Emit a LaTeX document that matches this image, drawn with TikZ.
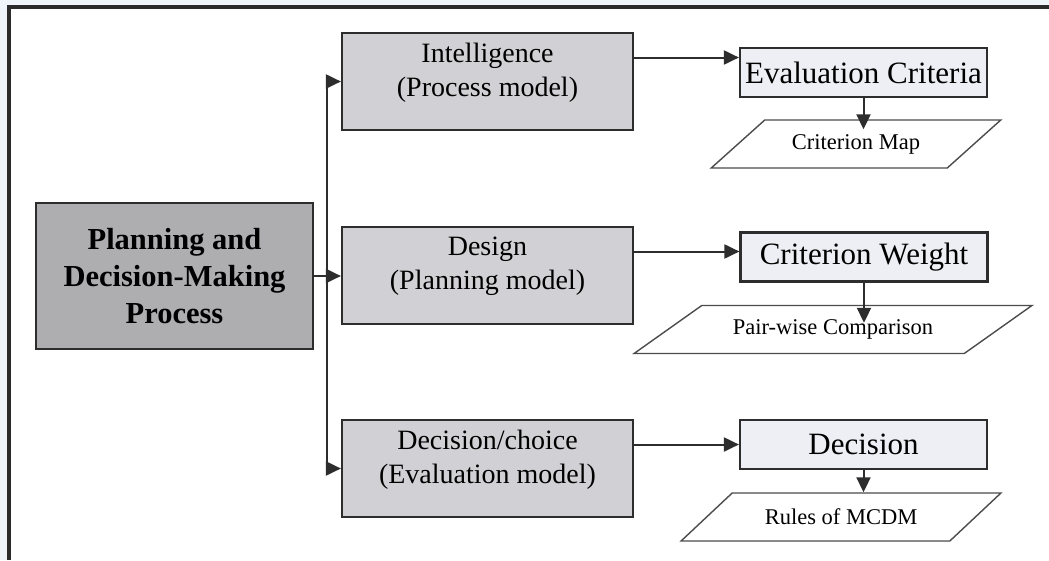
\documentclass[tikz,border=0pt]{standalone}
\usepackage{fontspec}
\setmainfont{Liberation Serif}
\usetikzlibrary{arrows.meta,
                shapes.geometric}

\definecolor{frameink}{HTML}{2B2B2B}
\definecolor{pagetint}{HTML}{F0F4FB}
\definecolor{rootfill}{HTML}{AEAEB1}
\definecolor{stagefill}{HTML}{D1D1D5}
\definecolor{outfill}{HTML}{EEEFF4}
\definecolor{lineink}{HTML}{2D2D2D}

\begin{document}
\begin{tikzpicture}%
    [x = 1pt, y = -1pt,
     rootbox/.style = {draw = lineink, line width = 2.2pt, fill = rootfill,
                       minimum width = 277pt, minimum height = 146pt, align = center,
                       font = \fontsize{30.5}{37}\selectfont\bfseries},
     stagebox/.style = {draw = lineink, line width = 2.2pt, fill = stagefill,
                        minimum width = 291pt, minimum height = 97pt, align = center,
                        text depth = 24pt, font = \fontsize{28}{34}\selectfont},
     outbox/.style = {draw = lineink, line width = 2.2pt, fill = outfill,
                      minimum width = 247pt, minimum height = 49pt,
                      font = \fontsize{31}{36}\selectfont},
     databox/.style = {trapezium, trapezium stretches = true, draw = lineink!85,
                       line width = 1.4pt, fill = white, minimum height = 48pt,
                       font = \fontsize{22.5}{26}\selectfont},
     arr/.style = {-{Triangle[length = 15pt, width = 14pt]}, draw = lineink,
                   line width = 2pt}]
    \useasboundingbox (0, 0) rectangle (1049, 560);
    \fill [pagetint] (0, 0) rectangle (1049, 560);
    \fill [white] (9, 7) rectangle (1049, 560);
    \draw [frameink, line width = 4pt] (9, 560) -- (9, 7) -- (1049, 7);

    \node (root) [rootbox] at (174.5, 276) {Planning and\\Decision-Making\\Process};
    \node (intel) [stagebox] at (487.5, 81.5) {Intelligence\\(Process model)};
    \node (design) [stagebox] at (487.5, 275.5) {Design\\(Planning model)};
    \node (choice) [stagebox] at (487.5, 468.5) {Decision/choice\\(Evaluation model)};

    \node (crit) [outbox] at (863.5, 72.5) {Evaluation Criteria};
    \node (weight) [outbox] at (864, 257) {Criterion Weight};
    \node (decide) [outbox] at (863.5, 444.5) {Decision};

    \node (cmap) [databox, trapezium left angle = 33.7, trapezium right angle = 146.3,
                  minimum width = 290pt] at (856, 144) {Criterion Map};
    \node (pairs) [databox, trapezium left angle = 26.3, trapezium right angle = 153.7,
                   minimum width = 398pt] at (833, 329.5) {Pair-wise Comparison};
    \node (rules) [databox, trapezium left angle = 31.3, trapezium right angle = 148.7,
                   minimum width = 320pt] at (841, 517) {Rules of MCDM};

    % branching from the main process
    \coordinate (bus) at (327, 276);
    \draw [arr] (root.east) -- (root.east -| design.west);
    \draw [arr] (bus) |- (intel.west);
    \draw [arr] (bus) |- (choice.west);

    % each phase to its output
    \coordinate (intelout) at ([yshift = 24pt] intel.east);
    \coordinate (designout) at ([yshift = 24pt] design.east);
    \coordinate (choiceout) at ([yshift = 24pt] choice.east);
    \draw [arr] (intelout) -- (intelout -| crit.west);
    \draw [arr] (designout) -- (designout -| weight.west);
    \draw [arr] (choiceout) -- (choiceout -| decide.west);

    \draw [arr, shorten >= -10pt] (crit.south) -- (crit.south |- cmap.north);
    \draw [arr, shorten >= -18pt] (weight.south) -- (weight.south |- pairs.north);
    \draw [arr] (decide.south) -- (decide.south |- rules.north);
\end{tikzpicture}
\end{document}
